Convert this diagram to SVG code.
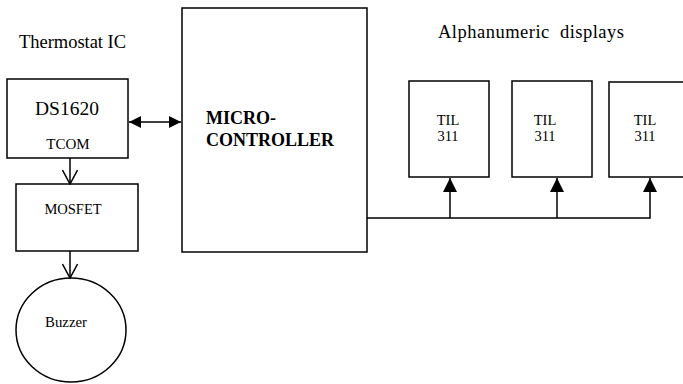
<svg xmlns="http://www.w3.org/2000/svg" width="683" height="384" viewBox="0 0 683 384">
<style>
.box{fill:#fff;stroke:#000;stroke-width:1.5}
.ln{fill:none;stroke:#000;stroke-width:1.5}
.t{font-family:"Liberation Serif","Times New Roman",serif;fill:#000}
.til{font-size:14.5px;text-anchor:middle}
</style>
<defs>
<marker id="fill" viewBox="0 0 12 12" refX="12" refY="6" markerWidth="12" markerHeight="12" markerUnits="userSpaceOnUse" orient="auto-start-reverse">
<path d="M0,0 L12,6 L0,12 Z" fill="#000"/>
</marker>
<marker id="open" viewBox="0 0 16 16" refX="15" refY="8" markerWidth="16" markerHeight="16" markerUnits="userSpaceOnUse" orient="auto">
<path d="M1,0.5 L15,8 L1,15.5" fill="none" stroke="#000" stroke-width="1.5"/>
</marker>
<marker id="tri" viewBox="0 0 14 14" refX="14" refY="7" markerWidth="14" markerHeight="14" markerUnits="userSpaceOnUse" orient="auto">
<path d="M0,0 L14,7 L0,14 Z" fill="#000"/>
</marker>
</defs>
<rect width="683" height="384" fill="#fff"/>
<text class="t" x="19" y="48" font-size="18.5" textLength="107" lengthAdjust="spacing">Thermostat IC</text>
<text class="t" x="438" y="38" font-size="18.5" xml:space="preserve" textLength="186" lengthAdjust="spacing">Alphanumeric  displays</text>
<g id="ds1620">
<rect class="box" x="7" y="79" width="121" height="79"/>
<text class="t" x="67" y="115" font-size="19.5" text-anchor="middle">DS1620</text>
<text class="t" x="68" y="149" font-size="15" text-anchor="middle">TCOM</text>
</g>
<g id="mosfet">
<rect class="box" x="16" y="184" width="122" height="67"/>
<text class="t" x="73" y="214" font-size="14.5" text-anchor="middle">MOSFET</text>
</g>
<g id="buzzer">
<ellipse class="box" cx="71" cy="330" rx="55" ry="52"/>
<text class="t" x="66" y="327" font-size="14.8" text-anchor="middle">Buzzer</text>
</g>
<g id="microcontroller">
<rect class="box" x="182" y="8" width="185" height="244"/>
<text class="t" x="206" y="124" font-size="18" font-weight="bold">MICRO-</text>
<text class="t" x="206" y="146" font-size="18" font-weight="bold">CONTROLLER</text>
</g>
<g id="til1">
<rect class="box" x="409" y="81" width="80" height="96"/>
<text class="t til" x="448" y="125">TIL</text>
<text class="t til" x="448" y="141">311</text>
</g>
<g id="til2">
<rect class="box" x="512" y="81" width="80" height="96"/>
<text class="t til" x="545" y="125">TIL</text>
<text class="t til" x="545" y="141">311</text>
</g>
<g id="til3">
<rect class="box" x="609" y="82" width="90" height="95"/>
<text class="t til" x="645" y="125">TIL</text>
<text class="t til" x="645" y="141">311</text>
</g>
<g id="connectors">
<line class="ln" x1="129" y1="122" x2="181" y2="122" marker-start="url(#fill)" marker-end="url(#fill)"/>
<line class="ln" x1="70" y1="158" x2="70" y2="184" marker-end="url(#open)"/>
<line class="ln" x1="70" y1="251" x2="70" y2="278" marker-end="url(#open)"/>
<polyline class="ln" points="367,218 650,218 650,178" marker-end="url(#tri)"/>
<line class="ln" x1="450" y1="218" x2="450" y2="178" marker-end="url(#tri)"/>
<line class="ln" x1="557" y1="218" x2="557" y2="178" marker-end="url(#tri)"/>
</g>
</svg>
